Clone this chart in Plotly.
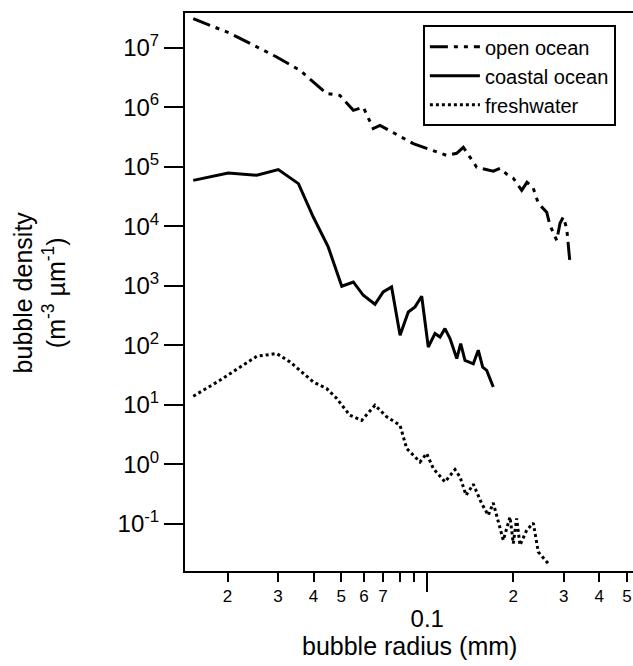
import plotly.graph_objects as go

# ---- data ----
open_x = [0.01517, 0.02039, 0.02971, 0.03584, 0.04446, 0.0494, 0.0551, 0.0597, 0.0647, 0.0683,
          0.0893, 0.1079, 0.1169, 0.1267, 0.1337, 0.1489, 0.1702, 0.1797, 0.190, 0.200,
          0.214, 0.2233, 0.2344, 0.2446, 0.254, 0.2618, 0.2688, 0.2838, 0.2914, 0.2992,
          0.3076, 0.3157]
open_y = [3.07e7, 1.74e7, 6.95e6, 4.16e6, 1.69e6, 1.58e6, 8.85e5, 1.0e6, 4.37e5, 4.95e5,
          2.44e5, 1.77e5, 1.55e5, 1.68e5, 2.12e5, 9.8e4, 8.4e4, 9.4e4, 7.46e4, 6.4e4,
          4.0e4, 5.47e4, 4.5e4, 2.43e4, 2.0e4, 1.72e4, 1.04e4, 5.8e3, 1.12e4, 1.43e4,
          9.2e3, 2.48e3]

coastal_x = [0.01517, 0.0201, 0.0253, 0.0301, 0.0354, 0.0399, 0.045, 0.0502, 0.0551, 0.0597,
             0.0656, 0.0701, 0.0750, 0.0803, 0.0858, 0.0906, 0.0956, 0.1008, 0.1064, 0.1108,
             0.1153, 0.1201, 0.1268, 0.1309, 0.1355, 0.1449, 0.1508, 0.1563, 0.1614, 0.1702]
coastal_y = [5.9e4, 7.85e4, 7.18e4, 8.95e4, 5.2e4, 1.43e4, 4.5e3, 982, 1160, 693,
             490, 789, 956, 148, 364, 442, 667, 94, 158, 138,
             191, 130, 60, 107, 56, 49, 83, 43, 38, 20]

fresh_x = [0.01517, 0.0188, 0.0253, 0.02971, 0.0331, 0.0399, 0.04446, 0.0482, 0.0536, 0.0589,
           0.0656, 0.0721, 0.0803, 0.0847, 0.0943, 0.0995, 0.105, 0.1153, 0.125, 0.1302,
           0.1367, 0.1449, 0.155, 0.1635, 0.1702, 0.1772, 0.1845, 0.1948, 0.2, 0.2055,
           0.2111, 0.2228, 0.235, 0.2446, 0.265]
fresh_y = [14.0, 25.9, 65.6, 72.8, 52.6, 24.3, 18.8, 12.8, 6.7, 5.5,
           9.9, 6.3, 4.55, 1.85, 1.10, 1.53, 0.854, 0.509, 0.822, 0.617,
           0.304, 0.466, 0.221, 0.140, 0.226, 0.104, 0.0535, 0.131, 0.047, 0.124,
           0.044, 0.0786, 0.104, 0.034, 0.0217]

series_names = ["open ocean", "coastal ocean", "freshwater"]

y_tickvals = [1e-1, 1e0, 1e1, 1e2, 1e3, 1e4, 1e5, 1e6, 1e7]
y_ticktext = ["10<sup>-1</sup>", "10<sup>0</sup>", "10<sup>1</sup>", "10<sup>2</sup>",
              "10<sup>3</sup>", "10<sup>4</sup>", "10<sup>5</sup>", "10<sup>6</sup>",
              "10<sup>7</sup>"]
x_minor_vals = [0.02, 0.03, 0.04, 0.05, 0.06, 0.07, 0.08, 0.09, 0.2, 0.3, 0.4, 0.5]
x_minor_text = ["2", "3", "4", "5", "6", "7", "", "", "2", "3", "4", "5"]
x_major_vals = [0.1]
x_major_text = ["0.1"]

FONT = "Arial, Liberation Sans, Helvetica, sans-serif"

fig = go.Figure()
fig.add_trace(go.Scatter(x=open_x, y=open_y, mode="lines", name=series_names[0],
                         line=dict(color="black", width=3, dash="18px,6px,4px,6px,4px,6px")))
fig.add_trace(go.Scatter(x=coastal_x, y=coastal_y, mode="lines", name=series_names[1],
                         line=dict(color="black", width=3)))
fig.add_trace(go.Scatter(x=fresh_x, y=fresh_y, mode="lines", name=series_names[2],
                         line=dict(color="black", width=3, dash="dot")))
# carrier trace for the overlay axis holding the long 0.1 tick
fig.add_trace(go.Scatter(x=fresh_x, y=fresh_y, mode="lines", xaxis="x2", showlegend=False,
                         hoverinfo="skip", opacity=0, line=dict(width=0)))

xr = [-1.848, -0.28]
fig.update_layout(
    width=633, height=666,
    margin=dict(l=185, r=0, t=13, b=95),
    paper_bgcolor="white", plot_bgcolor="white",
    font=dict(family=FONT, color="black"),
    showlegend=True,
    legend=dict(x=0.531, y=0.978, xanchor="left", yanchor="top",
                bordercolor="black", borderwidth=2, bgcolor="white",
                itemwidth=50,
                font=dict(size=20, family=FONT, color="black")),
    xaxis=dict(type="log", range=xr, showline=True, linecolor="black", linewidth=2,
               mirror=True, showgrid=False, zeroline=False,
               ticks="outside", ticklen=9, tickwidth=2, tickcolor="black",
               tickvals=x_minor_vals, ticktext=x_minor_text,
               tickfont=dict(size=17, family=FONT, color="black")),
    xaxis2=dict(type="log", range=xr, overlaying="x", side="bottom", showline=False,
                showgrid=False, zeroline=False,
                ticks="outside", ticklen=20, tickwidth=2, tickcolor="black",
                tickvals=x_major_vals, ticktext=x_major_text, ticklabelstandoff=6,
                tickfont=dict(size=24, family=FONT, color="black")),
    yaxis=dict(type="log", range=[-1.789, 7.581], showline=True, linecolor="black",
               linewidth=2, mirror=False, showgrid=False, zeroline=False,
               ticks="outside", ticklen=19, tickwidth=2, tickcolor="black",
               tickvals=y_tickvals, ticktext=y_ticktext,
               tickfont=dict(size=24, family=FONT, color="black")),
    annotations=[
        dict(text="bubble radius (mm)", xref="paper", yref="paper", x=0.5, y=-0.135,
             xanchor="center", yanchor="middle", showarrow=False,
             font=dict(size=25, family=FONT, color="black")),
        dict(text="bubble density<br>(m<sup>-3</sup> µm<sup>-1</sup>)", xref="paper",
             yref="paper", x=-0.325, y=0.5, xanchor="center", yanchor="middle",
             textangle=-90, showarrow=False,
             font=dict(size=25, family=FONT, color="black")),
    ],
)

fig.write_html("out.html")
